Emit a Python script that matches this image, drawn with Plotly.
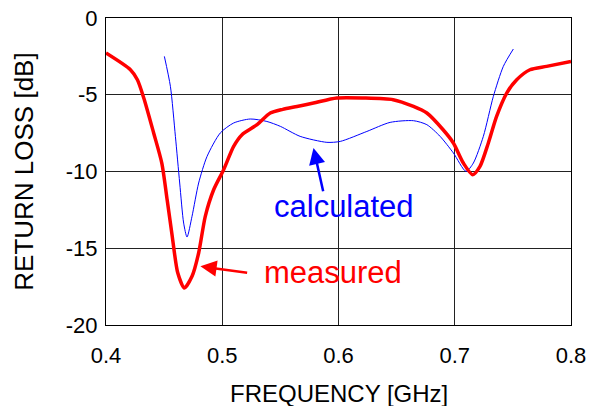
import plotly.graph_objects as go

# ---- data ----
meas_f = [0.400, 0.421, 0.427, 0.4325, 0.441, 0.448, 0.4526, 0.457, 0.4617, 0.4674,
          0.474, 0.4797, 0.4854, 0.4926, 0.5012, 0.5098, 0.517, 0.530, 0.5413, 0.552,
          0.5643, 0.5785, 0.5985, 0.6215, 0.647, 0.6645, 0.676, 0.690, 0.6988, 0.7074,
          0.7155, 0.7217, 0.7289, 0.736, 0.7447, 0.7533, 0.7647, 0.779, 0.800]
meas_db = [-2.28, -3.37, -4.02, -5.21, -7.49, -9.45, -11.84, -14.23, -16.6, -17.59,
           -16.83, -15.31, -12.92, -11.19, -9.88, -8.36, -7.6, -6.95, -6.19, -5.95,
           -5.76, -5.54, -5.21, -5.21, -5.32, -5.76, -6.19, -7.28, -8.14, -9.45,
           -10.21, -9.67, -8.14, -6.41, -4.89, -4.02, -3.37, -3.15, -2.83]

calc_f = [0.4502, 0.4554, 0.4597, 0.4634, 0.4668, 0.4697, 0.474, 0.4797, 0.4869, 0.4983,
          0.5098, 0.5241, 0.5384, 0.550, 0.567, 0.590, 0.6015, 0.6244, 0.6444, 0.6645,
          0.676, 0.6874, 0.6988, 0.7097, 0.716, 0.7246, 0.7332, 0.7418, 0.7504]
calc_db = [-2.5, -4.45, -7.71, -10.75, -13.36, -14.27, -12.92, -10.75, -9.02, -7.49,
           -6.84, -6.58, -6.74, -7.06, -7.71, -8.1, -8.04, -7.39, -6.8, -6.69,
           -6.95, -7.71, -8.79, -9.99, -9.45, -7.71, -5.11, -3.15, -2.02]

x_ticks = [0.4, 0.5, 0.6, 0.7, 0.8]
x_tick_text = ["0.4", "0.5", "0.6", "0.7", "0.8"]
y_ticks = [0, -5, -10, -15, -20]
y_tick_text = ["0", "-5", "-10", "-15", "-20"]

x_title = "FREQUENCY [GHz]"
y_title = "RETURN LOSS [dB]"
calc_label = "calculated"
meas_label = "measured"

FONT = "Liberation Sans, Arial, sans-serif"

fig = go.Figure()
fig.add_trace(go.Scatter(x=calc_f, y=calc_db, mode="lines",
                         line=dict(color="#0000ff", width=1, shape="spline", smoothing=0.7),
                         showlegend=False))
fig.add_trace(go.Scatter(x=meas_f, y=meas_db, mode="lines",
                         line=dict(color="#ff0000", width=3.5, shape="spline", smoothing=0.7),
                         showlegend=False))

fig.update_layout(
    width=590, height=406,
    margin=dict(l=106, r=19, t=18, b=81),
    paper_bgcolor="white", plot_bgcolor="white",
    font=dict(family=FONT, color="black"),
    showlegend=False,
)
fig.update_xaxes(range=[0.4, 0.8], tickvals=x_ticks, ticktext=x_tick_text,
                 tickfont=dict(size=22), showgrid=True, gridcolor="#222222", gridwidth=1,
                 showline=True, linecolor="black", linewidth=1, mirror=True,
                 zeroline=False, ticks="", ticklabelstandoff=11, automargin=False)
fig.update_yaxes(range=[-20, 0], tickvals=y_ticks, ticktext=y_tick_text,
                 tickfont=dict(size=22), showgrid=True, gridcolor="#222222", gridwidth=1,
                 showline=True, linecolor="black", linewidth=1, mirror=True,
                 zeroline=False, ticks="", ticklabelstandoff=3, automargin=False)

ann = [
    dict(text=x_title, xref="paper", yref="paper", x=0.5, y=-0.222,
         xanchor="center", yanchor="middle", showarrow=False, font=dict(size=24)),
    dict(text=y_title, xref="paper", yref="paper", x=-0.178, y=0.5,
         xanchor="center", yanchor="middle", textangle=-90, showarrow=False, font=dict(size=26)),
    dict(text=calc_label, xref="x", yref="y", x=0.6046, y=-12.3,
         xanchor="center", yanchor="middle", showarrow=False,
         font=dict(size=31, color="#0000ff")),
    dict(text=meas_label, xref="x", yref="y", x=0.595, y=-16.6,
         xanchor="center", yanchor="middle", showarrow=False,
         font=dict(size=31, color="#ff0000")),
    dict(text="", x=0.5785, y=-8.47, xref="x", yref="y",
         ax=0.5871, ay=-11.38, axref="x", ayref="y", showarrow=True,
         arrowhead=2, arrowsize=1.3, arrowwidth=2.5, arrowcolor="#0000ff"),
    dict(text="", x=0.4812, y=-16.18, xref="x", yref="y",
         ax=0.5227, ay=-16.61, axref="x", ayref="y", showarrow=True,
         arrowhead=2, arrowsize=1.3, arrowwidth=2.5, arrowcolor="#ff0000"),
]
fig.update_layout(annotations=ann)

fig.write_html("out.html", config={"displayModeBar": False},
               post_script="document.body.style.margin='0';document.body.style.padding='0';")
